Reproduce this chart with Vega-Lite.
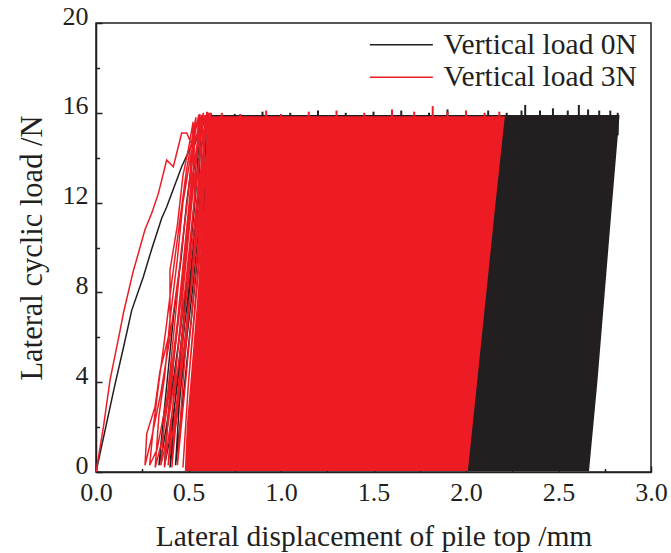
{
  "$schema": "https://vega.github.io/schema/vega-lite/v6.json",
  "autosize": "none",
  "width": 555,
  "height": 449,
  "padding": {"left": 96, "top": 23, "right": 20, "bottom": 81},
  "background": "white",
  "config": {
    "view": {"stroke": "#231f20", "strokeWidth": 1.5},
    "font": "Liberation Serif",
    "axis": {"labelFont": "Liberation Serif", "titleFont": "Liberation Serif", "labelColor": "#231f20", "titleColor": "#231f20", "domainColor": "#231f20", "tickColor": "#231f20", "grid": false, "titleFontWeight": "normal", "labelFontSize": 26, "titleFontSize": 29.5, "domainWidth": 1.5, "tickWidth": 1.5, "labelFlush": false},
    "legend": {"labelFont": "Liberation Serif", "labelFontSize": 29.5, "labelColor": "#231f20", "labelLimit": 400}
  },
  "datasets": {
    "band": [
      {"s": "Vertical load 0N", "y": 0.05, "xl": 0.52, "xr": 2.665},
      {"s": "Vertical load 0N", "y": 4, "xl": 0.53, "xr": 2.71},
      {"s": "Vertical load 0N", "y": 8, "xl": 0.57, "xr": 2.75},
      {"s": "Vertical load 0N", "y": 12, "xl": 0.6, "xr": 2.79},
      {"s": "Vertical load 0N", "y": 15.9, "xl": 0.62, "xr": 2.83},
      {"s": "Vertical load 3N", "y": 0.05, "xl": 0.48, "xr": 2.01},
      {"s": "Vertical load 3N", "y": 2, "xl": 0.49, "xr": 2.035},
      {"s": "Vertical load 3N", "y": 4, "xl": 0.51, "xr": 2.06},
      {"s": "Vertical load 3N", "y": 8, "xl": 0.55, "xr": 2.11},
      {"s": "Vertical load 3N", "y": 12, "xl": 0.58, "xr": 2.16},
      {"s": "Vertical load 3N", "y": 15.85, "xl": 0.605, "xr": 2.21}
    ],
    "peaks": [
      {"s": "Vertical load 0N", "x": 0.62, "y": 16.0},
      {"s": "Vertical load 0N", "x": 0.75, "y": 15.95},
      {"s": "Vertical load 0N", "x": 0.9, "y": 16.05},
      {"s": "Vertical load 0N", "x": 1.05, "y": 16.0},
      {"s": "Vertical load 0N", "x": 1.2, "y": 16.1},
      {"s": "Vertical load 0N", "x": 1.35, "y": 16.0},
      {"s": "Vertical load 0N", "x": 1.5, "y": 16.05},
      {"s": "Vertical load 0N", "x": 1.65, "y": 16.1},
      {"s": "Vertical load 0N", "x": 1.8, "y": 16.0},
      {"s": "Vertical load 0N", "x": 1.9, "y": 16.15},
      {"s": "Vertical load 0N", "x": 2.0, "y": 16.05},
      {"s": "Vertical load 0N", "x": 2.12, "y": 16.1},
      {"s": "Vertical load 0N", "x": 2.22, "y": 16.0},
      {"s": "Vertical load 0N", "x": 2.3, "y": 16.1},
      {"s": "Vertical load 0N", "x": 2.32, "y": 16.35},
      {"s": "Vertical load 0N", "x": 2.4, "y": 16.1},
      {"s": "Vertical load 0N", "x": 2.47, "y": 16.2},
      {"s": "Vertical load 0N", "x": 2.55, "y": 16.1},
      {"s": "Vertical load 0N", "x": 2.61, "y": 16.35},
      {"s": "Vertical load 0N", "x": 2.66, "y": 16.15},
      {"s": "Vertical load 0N", "x": 2.72, "y": 16.1},
      {"s": "Vertical load 0N", "x": 2.78, "y": 16.1},
      {"s": "Vertical load 0N", "x": 2.82, "y": 16.0},
      {"s": "Vertical load 3N", "x": 0.56, "y": 15.95},
      {"s": "Vertical load 3N", "x": 0.6, "y": 16.05},
      {"s": "Vertical load 3N", "x": 0.68, "y": 16.0},
      {"s": "Vertical load 3N", "x": 0.78, "y": 15.95},
      {"s": "Vertical load 3N", "x": 0.92, "y": 16.1},
      {"s": "Vertical load 3N", "x": 1.0, "y": 15.95},
      {"s": "Vertical load 3N", "x": 1.15, "y": 16.05},
      {"s": "Vertical load 3N", "x": 1.3, "y": 16.1},
      {"s": "Vertical load 3N", "x": 1.45, "y": 16.0},
      {"s": "Vertical load 3N", "x": 1.6, "y": 16.15},
      {"s": "Vertical load 3N", "x": 1.72, "y": 16.05},
      {"s": "Vertical load 3N", "x": 1.82, "y": 16.3},
      {"s": "Vertical load 3N", "x": 1.9, "y": 16.05},
      {"s": "Vertical load 3N", "x": 2.0, "y": 16.1},
      {"s": "Vertical load 3N", "x": 2.1, "y": 16.0},
      {"s": "Vertical load 3N", "x": 2.18, "y": 16.05}
    ],
    "cycles": [
      {"s": "Vertical load 0N", "o": 1, "x": 0, "y": 0},
      {"s": "Vertical load 0N", "o": 2, "x": 0.05, "y": 1.9},
      {"s": "Vertical load 0N", "o": 3, "x": 0.1, "y": 3.8},
      {"s": "Vertical load 0N", "o": 4, "x": 0.15, "y": 5.6},
      {"s": "Vertical load 0N", "o": 5, "x": 0.193, "y": 7.2},
      {"s": "Vertical load 0N", "o": 6, "x": 0.256, "y": 8.7},
      {"s": "Vertical load 0N", "o": 7, "x": 0.3, "y": 9.9},
      {"s": "Vertical load 0N", "o": 8, "x": 0.355, "y": 11.3},
      {"s": "Vertical load 0N", "o": 9, "x": 0.382, "y": 11.8},
      {"s": "Vertical load 0N", "o": 10, "x": 0.463, "y": 13.6},
      {"s": "Vertical load 0N", "o": 11, "x": 0.508, "y": 14.4},
      {"s": "Vertical load 0N", "o": 12, "x": 0.544, "y": 14.9},
      {"s": "Vertical load 0N", "o": 13, "x": 0.56, "y": 15.3},
      {"s": "Vertical load 0N", "o": 14, "x": 0.54, "y": 12.5},
      {"s": "Vertical load 0N", "o": 15, "x": 0.5, "y": 9},
      {"s": "Vertical load 0N", "o": 16, "x": 0.45, "y": 6},
      {"s": "Vertical load 0N", "o": 17, "x": 0.4, "y": 3},
      {"s": "Vertical load 0N", "o": 18, "x": 0.36, "y": 1},
      {"s": "Vertical load 0N", "o": 19, "x": 0.34, "y": 0.3},
      {"s": "Vertical load 0N", "o": 20, "x": 0.36, "y": 2},
      {"s": "Vertical load 0N", "o": 21, "x": 0.39, "y": 4.5},
      {"s": "Vertical load 0N", "o": 22, "x": 0.42, "y": 7},
      {"s": "Vertical load 0N", "o": 23, "x": 0.46, "y": 9.5},
      {"s": "Vertical load 0N", "o": 24, "x": 0.49, "y": 12},
      {"s": "Vertical load 0N", "o": 25, "x": 0.53, "y": 14.5},
      {"s": "Vertical load 0N", "o": 26, "x": 0.57, "y": 15.5},
      {"s": "Vertical load 0N", "o": 27, "x": 0.55, "y": 12},
      {"s": "Vertical load 0N", "o": 28, "x": 0.5, "y": 8},
      {"s": "Vertical load 0N", "o": 29, "x": 0.45, "y": 4.5},
      {"s": "Vertical load 0N", "o": 30, "x": 0.4, "y": 1.5},
      {"s": "Vertical load 0N", "o": 31, "x": 0.37, "y": 0.3},
      {"s": "Vertical load 0N", "o": 32, "x": 0.39, "y": 2.5},
      {"s": "Vertical load 0N", "o": 33, "x": 0.42, "y": 5},
      {"s": "Vertical load 0N", "o": 34, "x": 0.46, "y": 8},
      {"s": "Vertical load 0N", "o": 35, "x": 0.49, "y": 10.5},
      {"s": "Vertical load 0N", "o": 36, "x": 0.52, "y": 13},
      {"s": "Vertical load 0N", "o": 37, "x": 0.56, "y": 15},
      {"s": "Vertical load 0N", "o": 38, "x": 0.59, "y": 15.8},
      {"s": "Vertical load 0N", "o": 39, "x": 0.57, "y": 12},
      {"s": "Vertical load 0N", "o": 40, "x": 0.52, "y": 8},
      {"s": "Vertical load 0N", "o": 41, "x": 0.47, "y": 4.5},
      {"s": "Vertical load 0N", "o": 42, "x": 0.42, "y": 1.5},
      {"s": "Vertical load 0N", "o": 43, "x": 0.4, "y": 0.2},
      {"s": "Vertical load 0N", "o": 44, "x": 0.42, "y": 2.5},
      {"s": "Vertical load 0N", "o": 45, "x": 0.45, "y": 5},
      {"s": "Vertical load 0N", "o": 46, "x": 0.49, "y": 8},
      {"s": "Vertical load 0N", "o": 47, "x": 0.52, "y": 11},
      {"s": "Vertical load 0N", "o": 48, "x": 0.55, "y": 13.5},
      {"s": "Vertical load 0N", "o": 49, "x": 0.6, "y": 15.9},
      {"s": "Vertical load 0N", "o": 50, "x": 0.58, "y": 12},
      {"s": "Vertical load 0N", "o": 51, "x": 0.53, "y": 8},
      {"s": "Vertical load 0N", "o": 52, "x": 0.48, "y": 4},
      {"s": "Vertical load 0N", "o": 53, "x": 0.44, "y": 1},
      {"s": "Vertical load 0N", "o": 54, "x": 0.43, "y": 0.3},
      {"s": "Vertical load 0N", "o": 55, "x": 0.45, "y": 3},
      {"s": "Vertical load 0N", "o": 56, "x": 0.49, "y": 6.5},
      {"s": "Vertical load 0N", "o": 57, "x": 0.53, "y": 10},
      {"s": "Vertical load 0N", "o": 58, "x": 0.57, "y": 13.5},
      {"s": "Vertical load 0N", "o": 59, "x": 0.61, "y": 16},
      {"s": "Vertical load 3N", "o": 1, "x": 0, "y": 0},
      {"s": "Vertical load 3N", "o": 2, "x": 0.04, "y": 2.0},
      {"s": "Vertical load 3N", "o": 3, "x": 0.076, "y": 4.1},
      {"s": "Vertical load 3N", "o": 4, "x": 0.13, "y": 6.3},
      {"s": "Vertical load 3N", "o": 5, "x": 0.148, "y": 7.07},
      {"s": "Vertical load 3N", "o": 6, "x": 0.2, "y": 8.9},
      {"s": "Vertical load 3N", "o": 7, "x": 0.265, "y": 10.8},
      {"s": "Vertical load 3N", "o": 8, "x": 0.3, "y": 11.5},
      {"s": "Vertical load 3N", "o": 9, "x": 0.337, "y": 12.4},
      {"s": "Vertical load 3N", "o": 10, "x": 0.382, "y": 13.9},
      {"s": "Vertical load 3N", "o": 11, "x": 0.418, "y": 13.6},
      {"s": "Vertical load 3N", "o": 12, "x": 0.463, "y": 15.1},
      {"s": "Vertical load 3N", "o": 13, "x": 0.49, "y": 15.1},
      {"s": "Vertical load 3N", "o": 14, "x": 0.517, "y": 14.6},
      {"s": "Vertical load 3N", "o": 15, "x": 0.53, "y": 15.3},
      {"s": "Vertical load 3N", "o": 16, "x": 0.5, "y": 12.5},
      {"s": "Vertical load 3N", "o": 17, "x": 0.45, "y": 9},
      {"s": "Vertical load 3N", "o": 18, "x": 0.4, "y": 6},
      {"s": "Vertical load 3N", "o": 19, "x": 0.35, "y": 3.5},
      {"s": "Vertical load 3N", "o": 20, "x": 0.3, "y": 1.5},
      {"s": "Vertical load 3N", "o": 21, "x": 0.265, "y": 0.3},
      {"s": "Vertical load 3N", "o": 22, "x": 0.274, "y": 1.7},
      {"s": "Vertical load 3N", "o": 23, "x": 0.319, "y": 2.9},
      {"s": "Vertical load 3N", "o": 24, "x": 0.346, "y": 4.5},
      {"s": "Vertical load 3N", "o": 25, "x": 0.4, "y": 6.3},
      {"s": "Vertical load 3N", "o": 26, "x": 0.4, "y": 9},
      {"s": "Vertical load 3N", "o": 27, "x": 0.44, "y": 11},
      {"s": "Vertical load 3N", "o": 28, "x": 0.47, "y": 13.2},
      {"s": "Vertical load 3N", "o": 29, "x": 0.5, "y": 14.4},
      {"s": "Vertical load 3N", "o": 30, "x": 0.525, "y": 15.6},
      {"s": "Vertical load 3N", "o": 31, "x": 0.51, "y": 12},
      {"s": "Vertical load 3N", "o": 32, "x": 0.46, "y": 8},
      {"s": "Vertical load 3N", "o": 33, "x": 0.4, "y": 4},
      {"s": "Vertical load 3N", "o": 34, "x": 0.33, "y": 1},
      {"s": "Vertical load 3N", "o": 35, "x": 0.29, "y": 0.3},
      {"s": "Vertical load 3N", "o": 36, "x": 0.31, "y": 2},
      {"s": "Vertical load 3N", "o": 37, "x": 0.34, "y": 4},
      {"s": "Vertical load 3N", "o": 38, "x": 0.38, "y": 6.5},
      {"s": "Vertical load 3N", "o": 39, "x": 0.41, "y": 8.5},
      {"s": "Vertical load 3N", "o": 40, "x": 0.45, "y": 11},
      {"s": "Vertical load 3N", "o": 41, "x": 0.49, "y": 13.5},
      {"s": "Vertical load 3N", "o": 42, "x": 0.54, "y": 15.8},
      {"s": "Vertical load 3N", "o": 43, "x": 0.52, "y": 12.5},
      {"s": "Vertical load 3N", "o": 44, "x": 0.47, "y": 8.5},
      {"s": "Vertical load 3N", "o": 45, "x": 0.42, "y": 5},
      {"s": "Vertical load 3N", "o": 46, "x": 0.36, "y": 1.5},
      {"s": "Vertical load 3N", "o": 47, "x": 0.32, "y": 0.2},
      {"s": "Vertical load 3N", "o": 48, "x": 0.34, "y": 2.5},
      {"s": "Vertical load 3N", "o": 49, "x": 0.37, "y": 4.2},
      {"s": "Vertical load 3N", "o": 50, "x": 0.4, "y": 6.8},
      {"s": "Vertical load 3N", "o": 51, "x": 0.44, "y": 9.5},
      {"s": "Vertical load 3N", "o": 52, "x": 0.47, "y": 12},
      {"s": "Vertical load 3N", "o": 53, "x": 0.51, "y": 14},
      {"s": "Vertical load 3N", "o": 54, "x": 0.555, "y": 15.9},
      {"s": "Vertical load 3N", "o": 55, "x": 0.53, "y": 12},
      {"s": "Vertical load 3N", "o": 56, "x": 0.48, "y": 8},
      {"s": "Vertical load 3N", "o": 57, "x": 0.43, "y": 4.5},
      {"s": "Vertical load 3N", "o": 58, "x": 0.37, "y": 1},
      {"s": "Vertical load 3N", "o": 59, "x": 0.35, "y": 0.3},
      {"s": "Vertical load 3N", "o": 60, "x": 0.37, "y": 2.2},
      {"s": "Vertical load 3N", "o": 61, "x": 0.4, "y": 4.5},
      {"s": "Vertical load 3N", "o": 62, "x": 0.43, "y": 7},
      {"s": "Vertical load 3N", "o": 63, "x": 0.46, "y": 9.8},
      {"s": "Vertical load 3N", "o": 64, "x": 0.5, "y": 12.5},
      {"s": "Vertical load 3N", "o": 65, "x": 0.53, "y": 14.5},
      {"s": "Vertical load 3N", "o": 66, "x": 0.57, "y": 15.9},
      {"s": "Vertical load 3N", "o": 67, "x": 0.55, "y": 12.5},
      {"s": "Vertical load 3N", "o": 68, "x": 0.5, "y": 8.5},
      {"s": "Vertical load 3N", "o": 69, "x": 0.45, "y": 5},
      {"s": "Vertical load 3N", "o": 70, "x": 0.4, "y": 2},
      {"s": "Vertical load 3N", "o": 71, "x": 0.37, "y": 0.2},
      {"s": "Vertical load 3N", "o": 72, "x": 0.39, "y": 2.5},
      {"s": "Vertical load 3N", "o": 73, "x": 0.42, "y": 5},
      {"s": "Vertical load 3N", "o": 74, "x": 0.45, "y": 7.5},
      {"s": "Vertical load 3N", "o": 75, "x": 0.48, "y": 10},
      {"s": "Vertical load 3N", "o": 76, "x": 0.51, "y": 12.5},
      {"s": "Vertical load 3N", "o": 77, "x": 0.55, "y": 14.8},
      {"s": "Vertical load 3N", "o": 78, "x": 0.58, "y": 16.0},
      {"s": "Vertical load 3N", "o": 79, "x": 0.56, "y": 12},
      {"s": "Vertical load 3N", "o": 80, "x": 0.51, "y": 8},
      {"s": "Vertical load 3N", "o": 81, "x": 0.46, "y": 4.5},
      {"s": "Vertical load 3N", "o": 82, "x": 0.41, "y": 1.5},
      {"s": "Vertical load 3N", "o": 83, "x": 0.39, "y": 0.3},
      {"s": "Vertical load 3N", "o": 84, "x": 0.41, "y": 2.5},
      {"s": "Vertical load 3N", "o": 85, "x": 0.44, "y": 5.2},
      {"s": "Vertical load 3N", "o": 86, "x": 0.47, "y": 8},
      {"s": "Vertical load 3N", "o": 87, "x": 0.5, "y": 10.5},
      {"s": "Vertical load 3N", "o": 88, "x": 0.53, "y": 13},
      {"s": "Vertical load 3N", "o": 89, "x": 0.56, "y": 15},
      {"s": "Vertical load 3N", "o": 90, "x": 0.59, "y": 15.9},
      {"s": "Vertical load 3N", "o": 91, "x": 0.57, "y": 12.5},
      {"s": "Vertical load 3N", "o": 92, "x": 0.52, "y": 8.5},
      {"s": "Vertical load 3N", "o": 93, "x": 0.47, "y": 5},
      {"s": "Vertical load 3N", "o": 94, "x": 0.43, "y": 2},
      {"s": "Vertical load 3N", "o": 95, "x": 0.41, "y": 0.2},
      {"s": "Vertical load 3N", "o": 96, "x": 0.43, "y": 2.6},
      {"s": "Vertical load 3N", "o": 97, "x": 0.46, "y": 5},
      {"s": "Vertical load 3N", "o": 98, "x": 0.49, "y": 8},
      {"s": "Vertical load 3N", "o": 99, "x": 0.52, "y": 11},
      {"s": "Vertical load 3N", "o": 100, "x": 0.55, "y": 13.5},
      {"s": "Vertical load 3N", "o": 101, "x": 0.6, "y": 16},
      {"s": "Vertical load 3N", "o": 102, "x": 0.55, "y": 10},
      {"s": "Vertical load 3N", "o": 103, "x": 0.49, "y": 4.5},
      {"s": "Vertical load 3N", "o": 104, "x": 0.44, "y": 0.3},
      {"s": "Vertical load 3N", "o": 105, "x": 0.47, "y": 4},
      {"s": "Vertical load 3N", "o": 106, "x": 0.52, "y": 9},
      {"s": "Vertical load 3N", "o": 107, "x": 0.56, "y": 13},
      {"s": "Vertical load 3N", "o": 108, "x": 0.61, "y": 16},
      {"s": "Vertical load 3N", "o": 109, "x": 0.56, "y": 9.5},
      {"s": "Vertical load 3N", "o": 110, "x": 0.5, "y": 4},
      {"s": "Vertical load 3N", "o": 111, "x": 0.47, "y": 0.2},
      {"s": "Vertical load 3N", "o": 112, "x": 0.5, "y": 4},
      {"s": "Vertical load 3N", "o": 113, "x": 0.55, "y": 9},
      {"s": "Vertical load 3N", "o": 114, "x": 0.58, "y": 13},
      {"s": "Vertical load 3N", "o": 115, "x": 0.62, "y": 16}
    ]
  },
  "resolve": {"axis": {"x": "independent", "y": "independent"}},
  "layer": [
    {
      "data": {"name": "band"},
      "transform": [{"filter": "datum.s == 'Vertical load 0N'"}],
      "mark": {"type": "area", "orient": "horizontal", "color": "#231f20"},
      "encoding": {
        "y": {"field": "y", "type": "quantitative", "scale": {"domain": [0, 20], "nice": false},
          "axis": {"values": [0, 4, 8, 12, 16, 20], "tickSize": -6, "labelPadding": 14, "labelOffset": -7, "title": "Lateral cyclic load /N", "titleFontSize": 30.5, "titlePadding": 15, "orient": "left"}},
        "x": {"field": "xl", "type": "quantitative", "scale": {"domain": [0, 3], "nice": false},
          "axis": {"values": [0, 0.5, 1, 1.5, 2, 2.5, 3], "format": ".1f", "tickSize": -6, "labelPadding": 13, "title": "Lateral displacement of pile top /mm", "titlePadding": 17, "orient": "bottom"}},
        "x2": {"field": "xr"}
      }
    },
    {
      "data": {"name": "peaks"},
      "transform": [{"filter": "datum.s == 'Vertical load 0N'"}],
      "mark": {"type": "rule", "color": "#231f20", "strokeWidth": 2},
      "encoding": {
        "x": {"field": "x", "type": "quantitative",
          "axis": {"values": [0.25, 0.75, 1.25, 1.75, 2.25, 2.75], "tickSize": -3.5, "labels": false, "domain": false, "title": null, "orient": "bottom"}},
        "y": {"field": "y", "type": "quantitative",
          "axis": {"values": [2, 6, 10, 14, 18], "tickSize": -3.5, "labels": false, "domain": false, "title": null, "orient": "left"}},
        "y2": {"datum": 15}
      }
    },
    {
      "data": {"name": "band"},
      "transform": [{"filter": "datum.s == 'Vertical load 3N'"}],
      "mark": {"type": "area", "orient": "horizontal", "color": "#ed1c24"},
      "encoding": {
        "y": {"field": "y", "type": "quantitative", "axis": null},
        "x": {"field": "xl", "type": "quantitative", "axis": null},
        "x2": {"field": "xr"}
      }
    },
    {
      "data": {"name": "peaks"},
      "transform": [{"filter": "datum.s == 'Vertical load 3N'"}],
      "mark": {"type": "rule", "color": "#ed1c24", "strokeWidth": 2},
      "encoding": {
        "x": {"field": "x", "type": "quantitative", "axis": null},
        "y": {"field": "y", "type": "quantitative", "axis": null},
        "y2": {"datum": 15}
      }
    },
    {
      "data": {"name": "cycles"},
      "transform": [{"filter": "datum.s == 'Vertical load 0N'"}],
      "mark": {"type": "line", "strokeWidth": 1.5},
      "encoding": {
        "x": {"field": "x", "type": "quantitative", "axis": null},
        "y": {"field": "y", "type": "quantitative", "axis": null},
        "order": {"field": "o", "type": "quantitative"},
        "stroke": {"field": "s", "type": "nominal",
          "scale": {"domain": ["Vertical load 0N", "Vertical load 3N"], "range": ["#231f20", "#ed1c24"]},
          "legend": {"orient": "none", "legendX": 267, "legendY": 7, "title": null, "symbolType": "M-1,0H7", "symbolSize": 248, "symbolStrokeWidth": 1.5, "labelOffset": 51, "rowPadding": 1.5}}
      }
    },
    {
      "data": {"name": "cycles"},
      "transform": [{"filter": "datum.s == 'Vertical load 3N'"}],
      "mark": {"type": "line", "strokeWidth": 1.5},
      "encoding": {
        "x": {"field": "x", "type": "quantitative", "axis": null},
        "y": {"field": "y", "type": "quantitative", "axis": null},
        "order": {"field": "o", "type": "quantitative"},
        "stroke": {"field": "s", "type": "nominal"}
      }
    }
  ]
}
